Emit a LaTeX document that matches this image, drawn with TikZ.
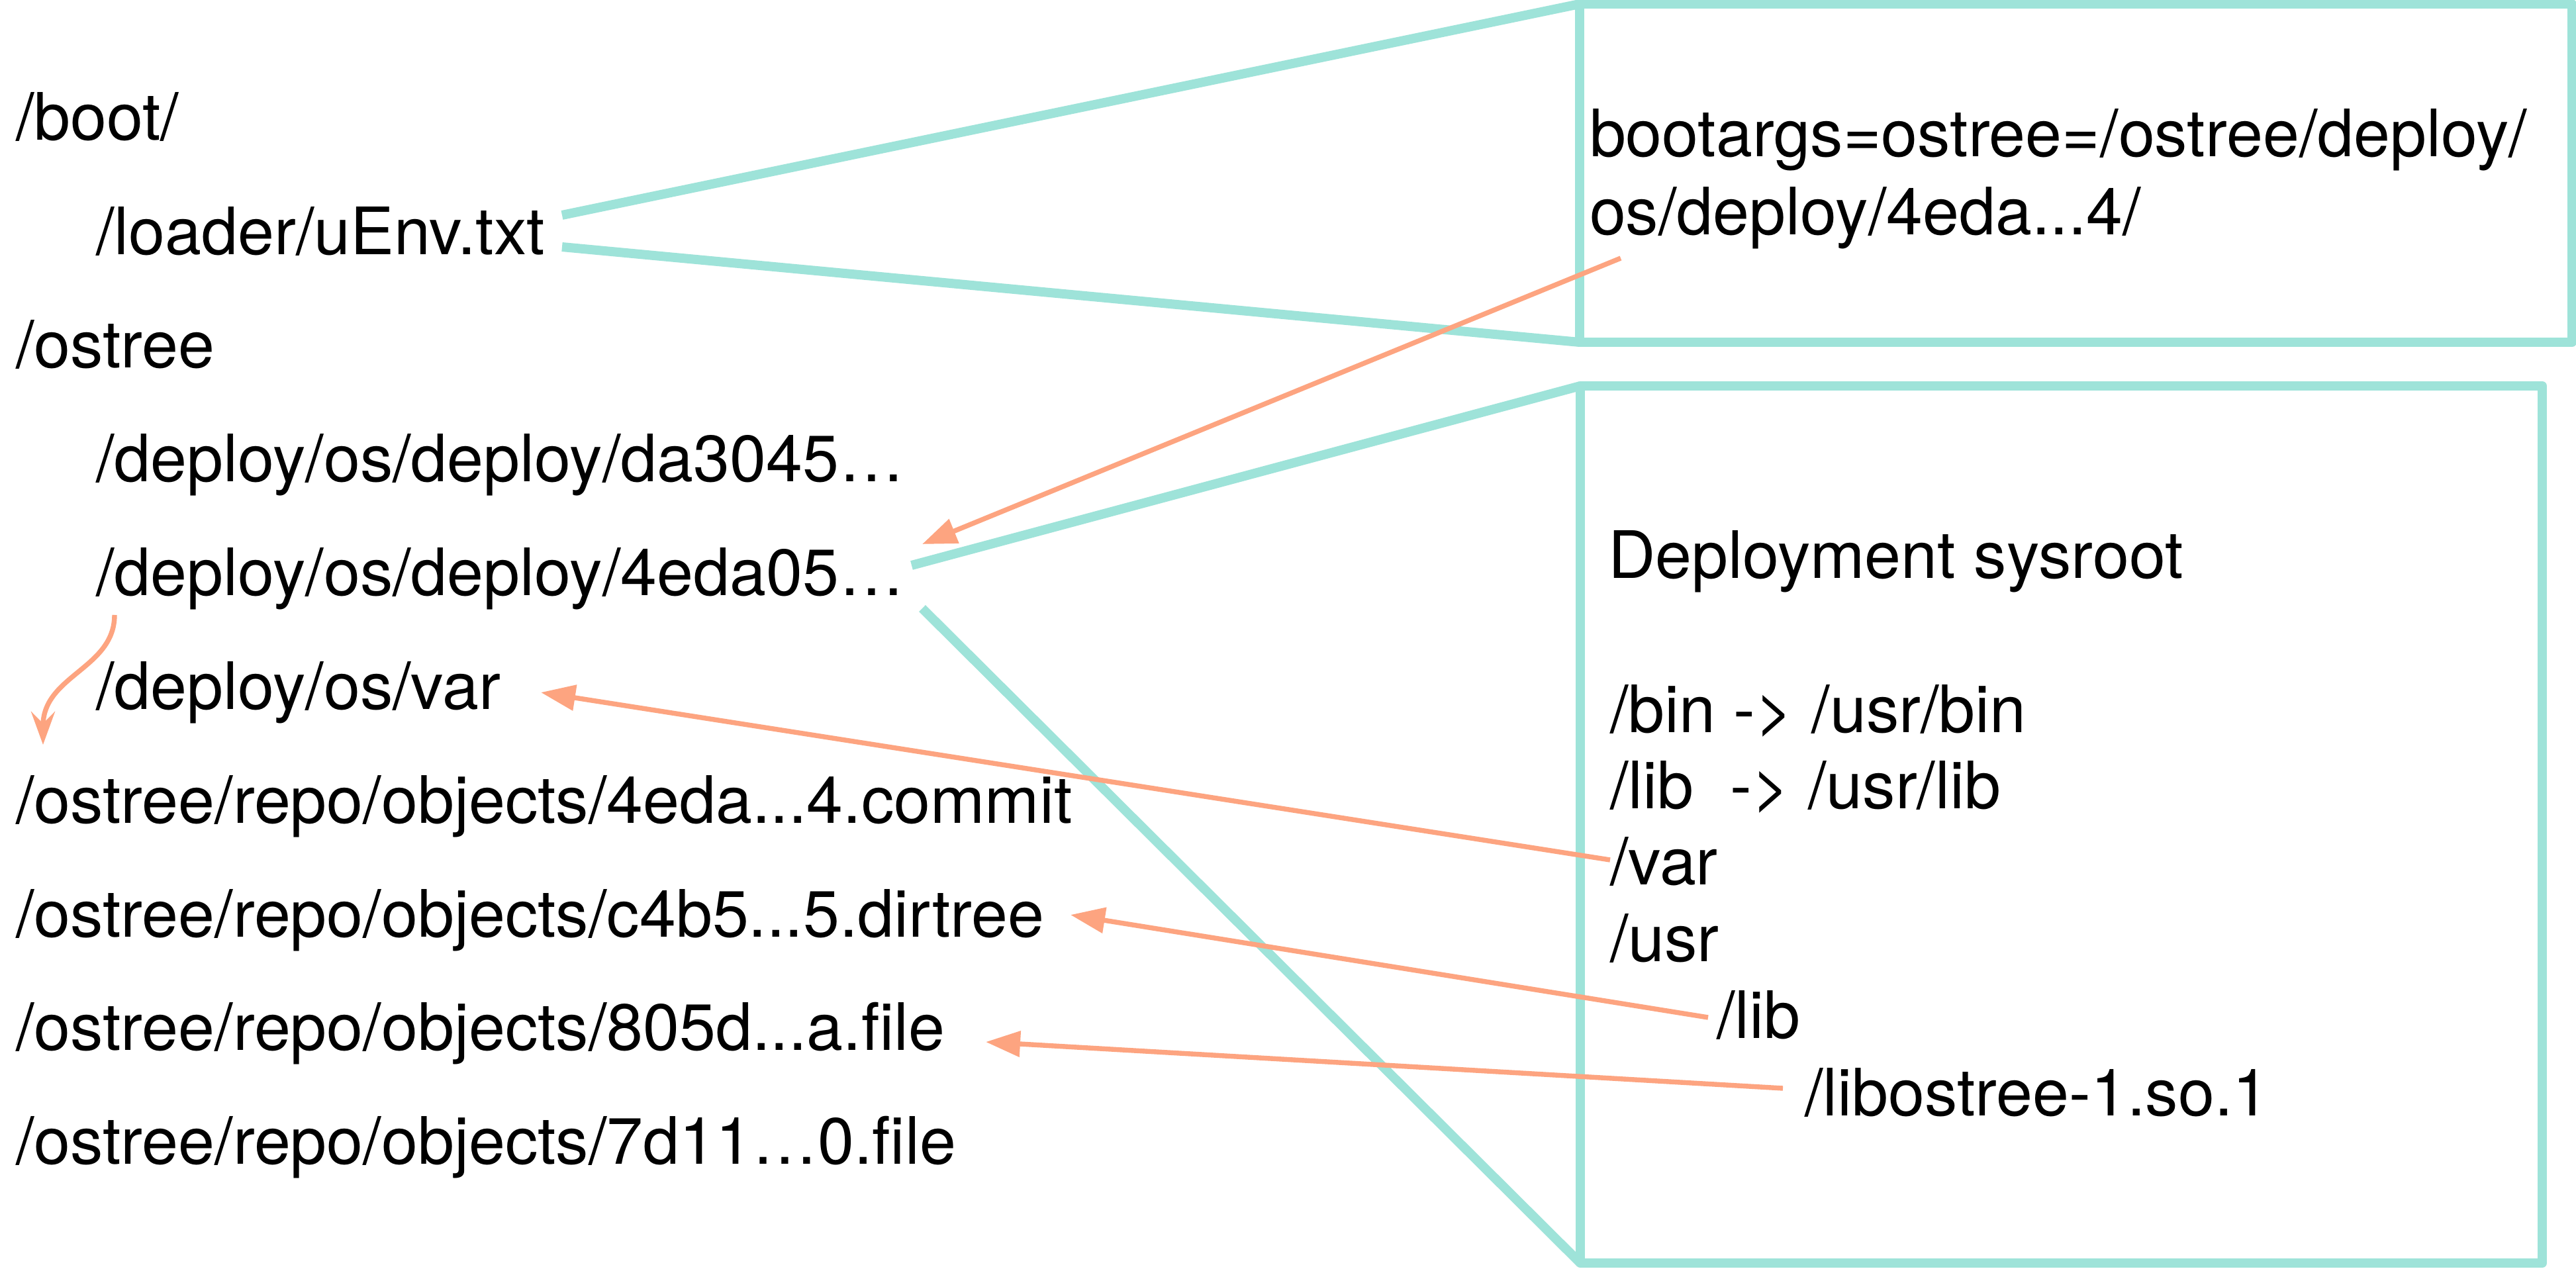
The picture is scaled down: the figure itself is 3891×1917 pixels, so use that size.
\documentclass[tikz,border=0pt]{standalone}
\usepackage{fontspec}
\setmainfont{TeX Gyre Heros}
\usetikzlibrary{arrows.meta}
\definecolor{tealc}{RGB}{158,227,217}
\definecolor{orangec}{RGB}{253,164,128}
\begin{document}
\begin{tikzpicture}[x=0.25pt,y=-0.25pt,
  txt/.style={anchor=base west, inner sep=0pt, outer sep=0pt, font=\fontsize{24.7pt}{29pt}\selectfont},
  tealline/.style={draw=tealc, line width=3.5pt},
  boxc/.style={draw=tealc, line width=3.5pt, line join=round, inner sep=0pt, outer sep=0pt, rectangle},
  ptr/.style={draw=orangec, line width=1.85pt, -{Triangle[length=13pt,width=9.5pt]}},
  curvptr/.style={draw=orangec, line width=1.85pt, -{Stealth[length=12.5pt,width=9pt,inset=4.5pt]}}]

\fill[white] (0,0) rectangle (3891,1917);
\useasboundingbox (0,0) rectangle (3891,1917);

% left column
\node[txt] (boot)    at (24,211)  {/boot/};
\node[txt] (uenv)    at (145,384) {/loader/uEnv.txt};
\node[txt] (ostree)  at (24,555)  {/ostree};
\node[txt] (da)      at (145,727) {/deploy/os/deploy/da3045…};
\node[txt] (eda)     at (145,899) {/deploy/os/deploy/4eda05…};
\node[txt] (var)     at (145,1071) {/deploy/os/var};
\node[txt] (commit)  at (24,1243) {/ostree/repo/objects/4eda...4.commit};
\node[txt] (dirtree) at (24,1415) {/ostree/repo/objects/c4b5...5.dirtree};
\node[txt] (fa)      at (24,1586) {/ostree/repo/objects/805d...a.file};
\node[txt] (fb)      at (24,1758) {/ostree/repo/objects/7d11…0.file};

% boxes
\node[boxc, minimum width=374.75pt, minimum height=127.75pt] (box1) at (3135.5,261.5) {};
\node[boxc, minimum width=363.25pt, minimum height=331.25pt] (box2) at (3113.5,1245.5) {};

% box 1 text
\node[txt] (bootargs) at (2401,236) {bootargs=ostree=/ostree/deploy/};
\node[txt] (bootargs2) at (2401,354) {os/deploy/4eda...4/};

% box 2 text
\node[txt] (sysroot) at (2429,873) {Deployment sysroot};
\node[txt] (bin)   at (2432,1106) {/bin -> /usr/bin};
\node[txt] (lib)   at (2432,1221) {/lib\ \ -> /usr/lib};
\node[txt] (rvar)  at (2432,1336) {/var};
\node[txt] (usr)   at (2432,1452) {/usr};
\node[txt] (ulib)  at (2593,1568) {/lib};
\node[txt] (libo)  at (2726,1685) {/libostree-1.so.1};

% connector anchor points
\coordinate (uA) at (849,325);
\coordinate (uB) at (849,373);
\coordinate (dA) at (1377,854);
\coordinate (dB) at (1393,919);

\draw[tealline] (uA) -- (box1.north west);
\draw[tealline] (uB) -- (box1.south west);
\draw[tealline] (dA) -- (box2.north west);
\draw[tealline] (dB) -- (box2.south west);

% orange pointers
\coordinate (bsrc) at (2448,390);
\coordinate (btip) at (1393,822);
\coordinate (vsrc) at (2432,1299);
\coordinate (vtip) at (817,1046);
\coordinate (lsrc) at (2580,1537);
\coordinate (ltip) at (1617,1382);
\coordinate (osrc) at (2693,1644);
\coordinate (otip) at (1489,1574);
\coordinate (cstart) at (173,929);
\coordinate (cend) at (65,1125);

\draw[ptr] (bsrc) -- (btip);
\draw[ptr] (vsrc) -- (vtip);
\draw[ptr] (lsrc) -- (ltip);
\draw[ptr] (osrc) -- (otip);
\draw[curvptr] (cstart) .. controls (173,1010) and (65,1020) .. (cend);

\end{tikzpicture}
\end{document}
